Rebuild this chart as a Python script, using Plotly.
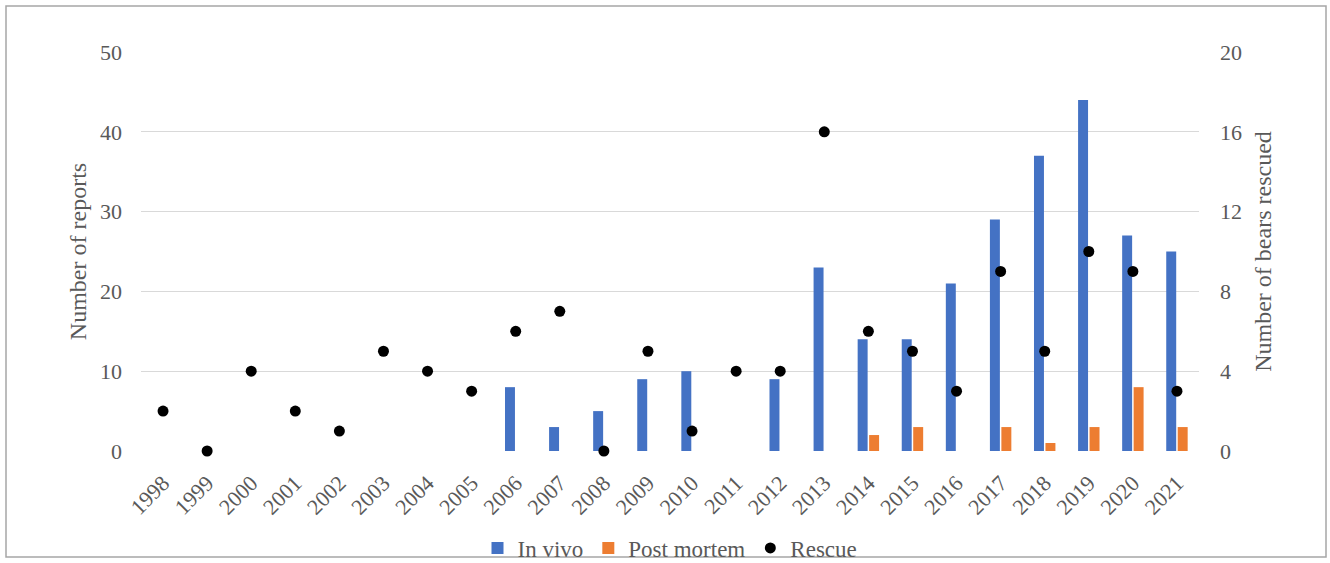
import plotly.graph_objects as go

years = [str(y) for y in range(1998, 2022)]
in_vivo = [0, 0, 0, 0, 0, 0, 0, 0, 8, 3, 5, 9, 10, 0, 9, 23, 14, 14, 21, 29, 37, 44, 27, 25]
post_mortem = [0, 0, 0, 0, 0, 0, 0, 0, 0, 0, 0, 0, 0, 0, 0, 0, 2, 3, 0, 3, 1, 3, 8, 3]
rescue = [2, 0, 4, 2, 1, 5, 4, 3, 6, 7, 0, 5, 1, 4, 4, 16, 6, 5, 3, 9, 5, 10, 9, 3]

FONT = "Liberation Serif"
GREY = "#595959"
FS = 22
TFS = 24

fig = go.Figure()
fig.add_trace(go.Bar(x=years, y=in_vivo, name="In vivo", marker_color="#4472C4",
                     marker_line_width=0))
fig.add_trace(go.Bar(x=years, y=post_mortem, name="Post mortem", marker_color="#ED7D31",
                     marker_line_width=0))
fig.add_trace(go.Scatter(x=years, y=rescue, name="Rescue", mode="markers", cliponaxis=False,
                         marker=dict(color="black", size=11), yaxis="y2"))

L, R, T, B = 141, 131, 52, 112
W, H = 1330, 563
pw, ph = W - L - R, H - T - B

def px(x):
    return (x - L) / pw

def py(y):
    return 1 - (y - T) / ph

fig.update_layout(
    width=W, height=H,
    margin=dict(l=L, r=R, t=T, b=B, autoexpand=False),
    paper_bgcolor="white", plot_bgcolor="white",
    font=dict(family=FONT, color=GREY, size=FS),
    barmode="group", bargap=0.48, bargroupgap=0.13,
    xaxis=dict(type="category", range=[-0.5, len(years) - 0.5], tickangle=-45,
               showgrid=False, showline=False, ticks="", automargin=False,
               ticklabelstandoff=14,
               tickfont=dict(size=FS, color=GREY)),
    yaxis=dict(range=[0, 50], dtick=10, showgrid=True, gridcolor="#d9d9d9",
               gridwidth=1, zeroline=False, showline=False, ticks="", automargin=False,
               ticklabelstandoff=18,
               title=dict(text="Number of reports", font=dict(size=TFS, color=GREY), standoff=6),
               tickfont=dict(size=FS, color=GREY)),
    yaxis2=dict(range=[0, 20], dtick=4, overlaying="y", side="right", showgrid=False,
                zeroline=False, showline=False, ticks="", automargin=False,
                ticklabelstandoff=20,
                title=dict(text="Number of bears rescued", font=dict(size=TFS, color=GREY), standoff=13),
                tickfont=dict(size=FS, color=GREY)),
    legend=dict(orientation="h", x=0.5, xanchor="center", y=py(548), yanchor="middle",
                font=dict(size=23, color=GREY), bgcolor="rgba(0,0,0,0)",
                itemwidth=30, traceorder="normal"),
    shapes=[dict(type="rect", xref="paper", yref="paper",
                 x0=px(6), x1=px(1326), y0=py(557), y1=py(6),
                 line=dict(color="#a6a6a6", width=1.5), fillcolor="rgba(0,0,0,0)", layer="below")],
)

post = """
document.body.style.margin='0';
document.documentElement.style.overflow='hidden';
document.body.style.overflow='hidden';
"""
fig.write_html("out.html", post_script=post, config={"displayModeBar": False})
